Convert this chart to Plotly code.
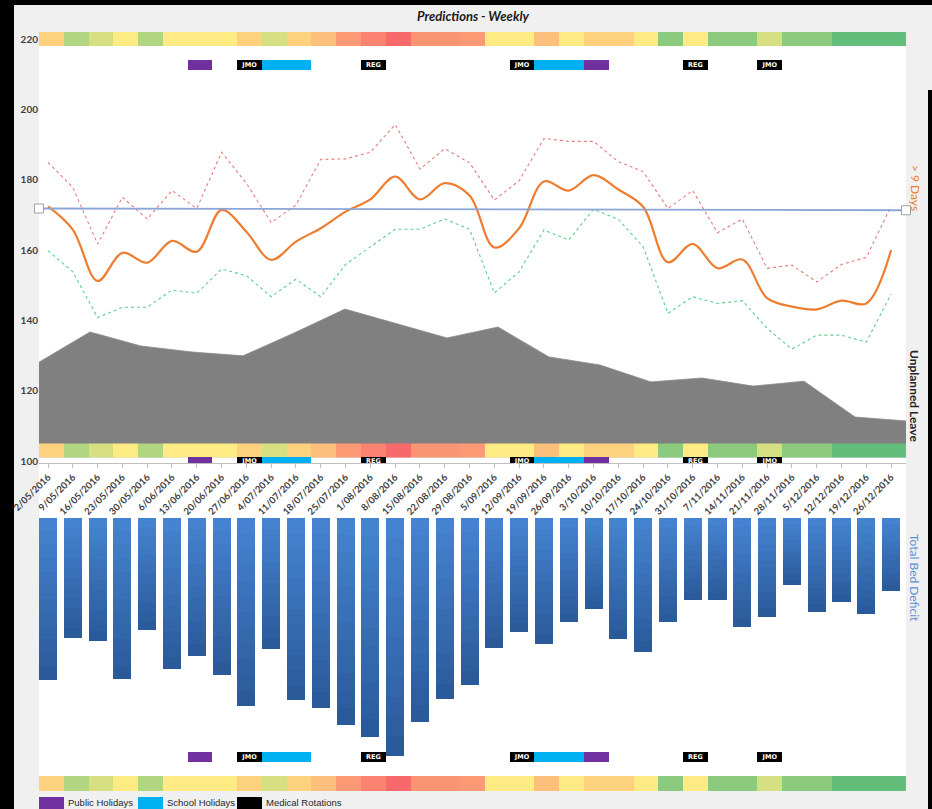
import plotly.graph_objects as go

# ---------------------------------------------------------------- data
WEEKS = [
    "2/05/2016", "9/05/2016", "16/05/2016", "23/05/2016", "30/05/2016",
    "6/06/2016", "13/06/2016", "20/06/2016", "27/06/2016",
    "4/07/2016", "11/07/2016", "18/07/2016", "25/07/2016",
    "1/08/2016", "8/08/2016", "15/08/2016", "22/08/2016", "29/08/2016",
    "5/09/2016", "12/09/2016", "19/09/2016", "26/09/2016",
    "3/10/2016", "10/10/2016", "17/10/2016", "24/10/2016", "31/10/2016",
    "7/11/2016", "14/11/2016", "21/11/2016", "28/11/2016",
    "5/12/2016", "12/12/2016", "19/12/2016", "26/12/2016",
]

# Patients expected to stay more than 9 days: forecast and its band
OVER_9_DAYS = [172.4, 165.8, 151.2, 159.2, 156.4, 162.6, 159.5, 171.4, 165.2, 157.2,
               162.4, 166.2, 170.9, 174.4, 180.9, 174.4, 179.0, 175.5, 160.7, 166.2,
               179.5, 176.9, 181.3, 177.2, 172.3, 156.5, 161.7, 154.8, 157.3, 146.3,
               143.9, 143.1, 145.6, 144.8, 160.0]
UPPER_BOUND = [184.9, 177.8, 161.7, 175.0, 168.8, 176.9, 171.8, 187.8, 179.0, 167.8,
               172.8, 185.8, 185.9, 187.8, 195.7, 183.0, 188.8, 184.8, 174.2, 179.7,
               191.7, 190.9, 190.9, 185.1, 182.3, 171.8, 176.9, 164.9, 168.8, 154.8,
               155.7, 150.9, 155.9, 157.9, 172.5]
LOWER_BOUND = [159.8, 153.8, 140.8, 143.7, 143.7, 148.6, 147.7, 154.6, 152.7, 146.7,
               151.7, 146.7, 155.9, 160.9, 165.9, 165.9, 168.8, 165.9, 147.8, 153.8,
               165.7, 162.8, 171.6, 168.7, 160.9, 142.0, 146.7, 144.8, 145.6, 137.7,
               131.8, 135.8, 135.8, 133.8, 147.5]

# Capacity threshold (start and end of the period)
THRESHOLD = [171.8, 171.3]

# Unplanned leave, fortnightly
UNPLANNED_LEAVE = [128.1, 136.7, 132.7, 131.0, 129.9, 136.4, 143.2, 139.2, 135.0,
                   138.1, 129.6, 127.3, 122.5, 123.6, 121.3, 122.7, 112.5, 111.4]

# Total bed deficit per week (beds)
BED_DEFICIT = [-23.1, -17.1, -17.6, -23.0, -16.0, -21.6, -19.7, -22.4, -26.9, -18.7,
               -26.0, -27.1, -29.6, -31.3, -34.0, -29.1, -25.9, -23.9, -18.6, -16.3,
               -18.0, -14.9, -13.0, -17.3, -19.1, -14.9, -11.7, -11.7, -15.6, -14.1,
               -9.6, -13.4, -12.0, -13.7, -10.4]

# Weekly pressure score (0 = low, 100 = high) shown as the coloured strip
PRESSURE = [60, 25, 37, 50, 25, 50, 50, 50, 60, 37, 60, 67, 81, 90, 100, 83, 83, 81,
            50, 50, 67, 50, 60, 60, 50, 13, 50, 13, 13, 37, 13, 13, 0, 0, 0]

# Calendar events: week index, kind, short label
EVENT_WEEK = [6, 8, 9, 10, 13, 19, 20, 21, 22, 26, 29]
EVENT_KIND = ["Public Holidays", "Medical Rotations", "School Holidays", "School Holidays",
              "Medical Rotations", "Medical Rotations", "School Holidays", "School Holidays",
              "Public Holidays", "Medical Rotations", "Medical Rotations"]
EVENT_LABEL = ["", "JMO", "", "", "REG", "JMO", "", "", "", "REG", "JMO"]

# ---------------------------------------------------------------- styling
KIND_COLOR = {"Public Holidays": "#7030a0", "School Holidays": "#00b0f0",
              "Medical Rotations": "#000000"}
PRESSURE_SCALE = [[0.0, "#63be7b"], [0.5, "#ffeb84"], [1.0, "#f8696b"]]
BAR_DARK = (0x2b, 0x5a, 0x9b)
BAR_LIGHT = (0x45, 0x82, 0xd0)
GRADIENT_STEPS = 12

W, H = 932, 809
PL, PR, PT, PB = 39, 906, 32, 792          # plot region in pixels


def fx(p):
    return (p - PL) / (PR - PL)


def fy(p):
    return (PB - p) / (PB - PT)


# top panel value scale: 100 sits at 461 px, 220 at 39 px
PX_PER_UNIT = (461 - 39) / 120.0


def top_val(p):
    return 100 + (461 - p) / PX_PER_UNIT


TOP_RANGE = [top_val(463), top_val(PT)]
BOT_PX_PER_BED = 7.0
BOT_RANGE = [-(PB - 518) / BOT_PX_PER_BED, 0]


def bot_val(p):
    return -(p - 518) / BOT_PX_PER_BED


LINE_RANGE = [-0.363, 34.6]
idx = list(range(len(WEEKS)))
ev_colors = [KIND_COLOR[k] for k in EVENT_KIND]
lab_week = [w for w, t in zip(EVENT_WEEK, EVENT_LABEL) if t]
lab_text = [t for t in EVENT_LABEL if t]
label_font = dict(size=6.5, color="white", family="DejaVu Sans", weight="bold")

fig = go.Figure()

# ---- top panel: pressure strips (top and bottom) on the weekly cell axis
for lo, hi in [(top_val(46.3), top_val(PT)), (top_val(457.2), top_val(443.5))]:
    fig.add_trace(go.Heatmap(
        x=idx, y=[lo, hi], z=[PRESSURE], xaxis="x5", yaxis="y",
        colorscale=PRESSURE_SCALE, zmin=0, zmax=100, showscale=False,
        hoverinfo="skip"))

# ---- unplanned leave area (fortnightly axis)
floor = top_val(457.2)
fig.add_trace(go.Scatter(
    x=list(range(len(UNPLANNED_LEAVE))), y=[floor] * len(UNPLANNED_LEAVE),
    xaxis="x3", yaxis="y", mode="lines", line=dict(width=0), hoverinfo="skip"))
fig.add_trace(go.Scatter(
    x=list(range(len(UNPLANNED_LEAVE))), y=UNPLANNED_LEAVE,
    xaxis="x3", yaxis="y", mode="lines", fill="tonexty",
    fillcolor="#808080", line=dict(color="#8a8a8a", width=0.8), name="Unplanned Leave"))

# ---- forecast lines
fig.add_trace(go.Scatter(x=idx, y=UPPER_BOUND, mode="lines", xaxis="x", yaxis="y",
                         line=dict(color="#e57b7b", width=1.1, dash="dot")))
fig.add_trace(go.Scatter(x=idx, y=LOWER_BOUND, mode="lines", xaxis="x", yaxis="y",
                         line=dict(color="#5ccf8e", width=1.1, dash="dot")))
fig.add_trace(go.Scatter(x=idx, y=OVER_9_DAYS, mode="lines", xaxis="x", yaxis="y",
                         line=dict(color="#ed7d31", width=2.2, shape="spline", smoothing=1.0),
                         name="> 9 Days"))

# ---- threshold line with hollow end markers
fig.add_trace(go.Scatter(
    x=[0, 1], y=THRESHOLD, xaxis="x4", yaxis="y", mode="lines+markers",
    line=dict(color="#8aa6d6", width=1.8), cliponaxis=False,
    marker=dict(symbol="square", size=9, color="white",
                line=dict(color="#a0a0a0", width=1))))

# ---- event markers, top panel (two rows)
for lo, hi in [(top_val(70), top_val(60)), (top_val(466), top_val(457.2))]:
    fig.add_trace(go.Bar(
        x=EVENT_WEEK, y=[hi - lo] * len(EVENT_WEEK), base=[lo] * len(EVENT_WEEK),
        xaxis="x5", yaxis="y", width=1.0, marker=dict(color=ev_colors, line=dict(width=0)),
        cliponaxis=False, hoverinfo="skip"))
    fig.add_trace(go.Scatter(
        x=lab_week, y=[(lo + hi) / 2] * len(lab_week), xaxis="x5", yaxis="y",
        mode="text", text=lab_text, textposition="middle center",
        textfont=label_font, cliponaxis=False, hoverinfo="skip"))

# ---- bottom panel: bed deficit bars with vertical gradient
for k in range(GRADIENT_STEPS):
    t = k / (GRADIENT_STEPS - 1)
    rgb = tuple(round(d + (l - d) * t) for d, l in zip(BAR_DARK, BAR_LIGHT))
    frac = 1 - k / GRADIENT_STEPS
    fig.add_trace(go.Bar(
        x=idx, y=[v * frac for v in BED_DEFICIT], xaxis="x2", yaxis="y2",
        width=0.73, marker=dict(color="rgb(%d,%d,%d)" % rgb, line=dict(width=0)),
        hoverinfo="skip" if k else None, name="Total Bed Deficit"))

# bottom panel strip and event row
fig.add_trace(go.Heatmap(
    x=idx, y=[bot_val(791), bot_val(776)], z=[PRESSURE], xaxis="x6", yaxis="y2",
    colorscale=PRESSURE_SCALE, zmin=0, zmax=100, showscale=False, hoverinfo="skip"))
lo, hi = bot_val(762), bot_val(752)
fig.add_trace(go.Bar(
    x=EVENT_WEEK, y=[hi - lo] * len(EVENT_WEEK), base=[lo] * len(EVENT_WEEK),
    xaxis="x6", yaxis="y2", width=1.0, marker=dict(color=ev_colors, line=dict(width=0)),
    hoverinfo="skip"))
fig.add_trace(go.Scatter(
    x=lab_week, y=[(lo + hi) / 2] * len(lab_week), xaxis="x6", yaxis="y2",
    mode="text", text=lab_text, textposition="middle center",
    textfont=label_font, hoverinfo="skip"))

# ---------------------------------------------------------------- layout
tick_font = dict(family="Lato", size=9.5, color="#404040", weight="bold")
hidden = dict(visible=False, showgrid=False, zeroline=False)

fig.update_layout(
    width=W, height=H, autosize=False,
    margin=dict(l=PL, r=W - PR, t=PT, b=H - PB, pad=0),
    paper_bgcolor="#f0f0f0", plot_bgcolor="rgba(0,0,0,0)",
    showlegend=False, barmode="overlay", bargap=0,
    font=dict(family="Lato", color="#404040"),
    xaxis=dict(domain=[0, 1], anchor="y", range=LINE_RANGE,
               tickmode="array", tickvals=idx, ticktext=WEEKS, tickangle=-45,
               ticks="outside", ticklen=4, tickcolor="#bfbfbf",
               showline=True, linecolor="#bfbfbf", linewidth=1,
               showgrid=False, zeroline=False, tickfont=tick_font,
               layer="below traces"),
    yaxis=dict(domain=[fy(463), 1], range=TOP_RANGE, anchor="x",
               tickmode="array", tickvals=[100, 120, 140, 160, 180, 200, 220],
               showgrid=False, zeroline=False, showline=False, ticks="",
               tickfont=dict(family="Lato", size=10, color="#404040", weight="bold")),
    xaxis3=dict(overlaying="x", anchor="y", range=[0, len(UNPLANNED_LEAVE) - 1], **hidden),
    xaxis4=dict(overlaying="x", anchor="y", range=[0, 1], **hidden),
    xaxis5=dict(overlaying="x", anchor="y", range=[-0.5, len(WEEKS) - 0.5], **hidden),
    xaxis2=dict(domain=[0, 1], anchor="y2", range=LINE_RANGE, **hidden),
    xaxis6=dict(overlaying="x2", anchor="y2", range=[-0.5, len(WEEKS) - 0.5], **hidden),
    yaxis2=dict(domain=[0, fy(518)], range=BOT_RANGE, anchor="x2", **hidden),
)

shapes = [
    # white chart panel
    dict(type="rect", xref="paper", yref="paper", layer="below",
         x0=fx(PL), x1=fx(PR), y0=fy(791), y1=fy(46),
         fillcolor="white", line=dict(width=0)),
    # dark frame edges
    dict(type="rect", xref="paper", yref="paper", layer="below",
         x0=fx(0), x1=fx(14), y0=fy(H), y1=fy(0), fillcolor="black", line=dict(width=0)),
    dict(type="rect", xref="paper", yref="paper", layer="below",
         x0=fx(0), x1=fx(W), y0=fy(5), y1=fy(0), fillcolor="black", line=dict(width=0)),
    dict(type="rect", xref="paper", yref="paper", layer="below",
         x0=fx(928), x1=fx(W), y0=fy(H), y1=fy(90), fillcolor="black", line=dict(width=0)),
]

annotations = [
    dict(text="Predictions - Weekly", xref="paper", yref="paper",
         x=fx(473), y=fy(16), xanchor="center", yanchor="middle", showarrow=False,
         font=dict(family="Lato", size=13, color="#1a1a1a", weight="bold", style="italic")),
    dict(text="> 9 Days", xref="paper", yref="paper", x=fx(915), y=fy(188),
         textangle=90, showarrow=False, xanchor="center", yanchor="middle",
         font=dict(family="Lato", size=12, color="#ed7d31")),
    dict(text="Unplanned Leave", xref="paper", yref="paper", x=fx(915), y=fy(396),
         textangle=90, showarrow=False, xanchor="center", yanchor="middle",
         font=dict(family="Lato", size=12, color="#262626", weight="bold")),
    dict(text="Total Bed Deficit", xref="paper", yref="paper", x=fx(915), y=fy(578),
         textangle=90, showarrow=False, xanchor="center", yanchor="middle",
         font=dict(family="Lato", size=12, color="#5b8fd6")),
]

# key for the calendar event colours
key_x = [39, 138, 237]
for (kind, color), x0 in zip(KIND_COLOR.items(), key_x):
    shapes.append(dict(type="rect", xref="paper", yref="paper", layer="above",
                       x0=fx(x0), x1=fx(x0 + 25), y0=fy(812), y1=fy(797),
                       fillcolor=color, line=dict(width=0)))
    annotations.append(dict(text=kind, xref="paper", yref="paper",
                            x=fx(x0 + 27), y=fy(802.5), xanchor="left", yanchor="middle",
                            showarrow=False,
                            font=dict(family="Liberation Sans", size=9.5, color="#262626")))

fig.update_layout(shapes=shapes, annotations=annotations)

fig.write_html("out.html")
